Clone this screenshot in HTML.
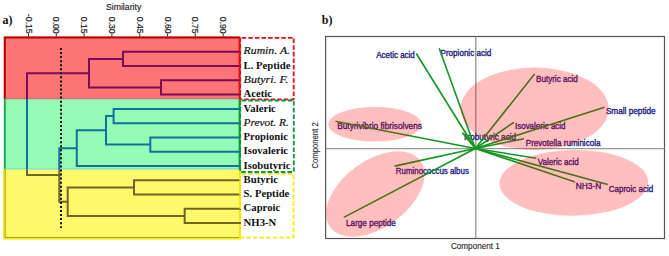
<!DOCTYPE html>
<html><head><meta charset="utf-8"><style>
html,body{margin:0;padding:0;background:#fff;width:669px;height:256px;overflow:hidden}
svg{display:block}
</style></head><body>
<svg width="669" height="256" viewBox="0 0 669 256">
<defs>
<clipPath id="cr"><rect x="0" y="0" width="300" height="99"/></clipPath>
<clipPath id="cg"><rect x="0" y="99" width="300" height="70.6"/></clipPath>
<clipPath id="cy"><rect x="0" y="169.6" width="300" height="100"/></clipPath>
</defs>
<!-- panel a -->
<text x="2.6" y="24.3" style="font-family:'Liberation Serif',serif;font-weight:bold;font-size:12px" fill="#111">a)</text>
<text x="105.9" y="10.2" textLength="35.4" lengthAdjust="spacingAndGlyphs" style="font-family:'Liberation Sans',sans-serif;font-size:8.8px" fill="#222" stroke="#222" stroke-width="0.15">Similarity</text>
<g style="font-family:'Liberation Sans',sans-serif;font-size:8.6px" fill="#222" stroke="#333" stroke-width="1"><text stroke="#222" stroke-width="0.2" transform="translate(25.5 33.6) rotate(90)" text-anchor="end">-0.15</text><line x1="28.5" y1="33.5" x2="28.5" y2="37" /><text stroke="#222" stroke-width="0.2" transform="translate(53.3 33.6) rotate(90)" text-anchor="end">0.00</text><line x1="56.3" y1="33.5" x2="56.3" y2="37" /><text stroke="#222" stroke-width="0.2" transform="translate(81.1 33.6) rotate(90)" text-anchor="end">0.15</text><line x1="84.1" y1="33.5" x2="84.1" y2="37" /><text stroke="#222" stroke-width="0.2" transform="translate(108.9 33.6) rotate(90)" text-anchor="end">0.30</text><line x1="111.9" y1="33.5" x2="111.9" y2="37" /><text stroke="#222" stroke-width="0.2" transform="translate(136.7 33.6) rotate(90)" text-anchor="end">0.45</text><line x1="139.7" y1="33.5" x2="139.7" y2="37" /><text stroke="#222" stroke-width="0.2" transform="translate(164.5 33.6) rotate(90)" text-anchor="end">0.60</text><line x1="167.5" y1="33.5" x2="167.5" y2="37" /><text stroke="#222" stroke-width="0.2" transform="translate(192.3 33.6) rotate(90)" text-anchor="end">0.75</text><line x1="195.3" y1="33.5" x2="195.3" y2="37" /><text stroke="#222" stroke-width="0.2" transform="translate(220.1 33.6) rotate(90)" text-anchor="end">0.90</text><line x1="223.1" y1="33.5" x2="223.1" y2="37" /></g>
<rect x="3.8" y="36.5" width="236.5" height="62.5" fill="#ff7474"/>
<rect x="3.8" y="99" width="236.5" height="70.6" fill="#94fcb6"/>
<rect x="3.8" y="169.6" width="236.5" height="69.39999999999999" fill="#fef96a"/>
<g fill="none">
<path d="M4.8 99V37.5H239.8" stroke="#b4000a" stroke-width="2"/>
<path d="M239.60000000000002 37.5V99" stroke="#f00008" stroke-width="2"/>
<path d="M4.8 98.4H238.8" stroke="#e86060" stroke-width="0.8"/>
<path d="M4.8 99.7H238.8" stroke="#80d8b8" stroke-width="0.9"/>
<path d="M4.8 99V169.6" stroke="#20a050" stroke-width="1.8"/>
<path d="M239.60000000000002 99V169.6" stroke="#10a040" stroke-width="2"/>
<path d="M4.8 169.0H238.8" stroke="#78dcc0" stroke-width="1"/>
<path d="M4.2 169.6V238.5H240.0V169.6" stroke="#f0ea00" stroke-width="2"/>
<path d="M5.2 169.6V237.5H238.8" stroke="#a09a10" stroke-width="0.9"/>
</g>
<g fill="none" stroke-width="2" stroke-linejoin="miter" stroke-linecap="square">
<path d="M123 58.9375V51.80H240M123 58.9375V66.08H240M161 87.4875V80.35H240M161 87.4875V94.62H240M89 73.2125V58.94H123M89 73.2125V87.49H161M113.6 116.0375V108.90H240M113.6 116.0375V123.17H240M150.3 144.58749999999998V137.45H240M150.3 144.58749999999998V151.72H240M106 130.3125V116.04H113.6M106 130.3125V144.59H150.3M76.8 148.15625V130.31H106M76.8 148.15625V166.00H240M134 187.4125V180.27H240M134 187.4125V194.55H240M184.7 215.9625V208.82H240M184.7 215.9625V223.10H240M67.7 201.6875V187.41H134M67.7 201.6875V215.96H184.7M59.3 174.921875V148.16H76.8M59.3 174.921875V201.69H67.7M27 124.0671875V73.21H89M27 124.0671875V174.92H59.3" stroke="#7a0c58" clip-path="url(#cr)"/>
<path d="M123 58.9375V51.80H240M123 58.9375V66.08H240M161 87.4875V80.35H240M161 87.4875V94.62H240M89 73.2125V58.94H123M89 73.2125V87.49H161M113.6 116.0375V108.90H240M113.6 116.0375V123.17H240M150.3 144.58749999999998V137.45H240M150.3 144.58749999999998V151.72H240M106 130.3125V116.04H113.6M106 130.3125V144.59H150.3M76.8 148.15625V130.31H106M76.8 148.15625V166.00H240M134 187.4125V180.27H240M134 187.4125V194.55H240M184.7 215.9625V208.82H240M184.7 215.9625V223.10H240M67.7 201.6875V187.41H134M67.7 201.6875V215.96H184.7M59.3 174.921875V148.16H76.8M59.3 174.921875V201.69H67.7M27 124.0671875V73.21H89M27 124.0671875V174.92H59.3" stroke="#12709e" clip-path="url(#cg)"/>
<path d="M123 58.9375V51.80H240M123 58.9375V66.08H240M161 87.4875V80.35H240M161 87.4875V94.62H240M89 73.2125V58.94H123M89 73.2125V87.49H161M113.6 116.0375V108.90H240M113.6 116.0375V123.17H240M150.3 144.58749999999998V137.45H240M150.3 144.58749999999998V151.72H240M106 130.3125V116.04H113.6M106 130.3125V144.59H150.3M76.8 148.15625V130.31H106M76.8 148.15625V166.00H240M134 187.4125V180.27H240M134 187.4125V194.55H240M184.7 215.9625V208.82H240M184.7 215.9625V223.10H240M67.7 201.6875V187.41H134M67.7 201.6875V215.96H184.7M59.3 174.921875V148.16H76.8M59.3 174.921875V201.69H67.7M27 124.0671875V73.21H89M27 124.0671875V174.92H59.3" stroke="#706426" clip-path="url(#cy)"/>
</g>
<line x1="61" y1="48" x2="61" y2="228" stroke="#111" stroke-width="2" stroke-dasharray="2 2.05"/>
<g fill="none" stroke-width="1.8" stroke-dasharray="4.6 2" stroke-dashoffset="-1.5">
<rect x="240.2" y="37.8" width="53.5" height="61.5" stroke="#e0101a"/>
<rect x="240.2" y="100.5" width="53.6" height="71.5" stroke="#12913f"/>
<rect x="240.2" y="173.8" width="53.3" height="63.9" stroke="#f2ea10"/>
</g>
<g style="font-family:'Liberation Serif',serif;font-size:10.7px" fill="#111"><text x="243.6" y="54.4" style="font-style:italic;font-weight:normal;font-size:11.2px" textLength="46.4" lengthAdjust="spacingAndGlyphs" stroke="#111" stroke-width="0.2">Rumin. A.</text><text x="243.6" y="68.7" style="font-weight:bold">L. Peptide</text><text x="243.6" y="82.9" style="font-style:italic;font-weight:normal;font-size:11.2px" textLength="44.7" lengthAdjust="spacingAndGlyphs" stroke="#111" stroke-width="0.2">Butyri. F.</text><text x="243.6" y="97.2" style="font-weight:bold">Acetic</text><text x="243.6" y="111.5" style="font-weight:bold">Valeric</text><text x="243.6" y="125.8" style="font-style:italic;font-weight:normal;font-size:11.2px" textLength="45.2" lengthAdjust="spacingAndGlyphs" stroke="#111" stroke-width="0.2">Prevot. R.</text><text x="243.6" y="140.0" style="font-weight:bold">Propionic</text><text x="243.6" y="154.3" style="font-weight:bold">Isovaleric</text><text x="243.6" y="168.6" style="font-weight:bold">Isobutyric</text><text x="243.6" y="182.9" style="font-weight:bold">Butyric</text><text x="243.6" y="197.2" style="font-weight:bold">S. Peptide</text><text x="243.6" y="211.4" style="font-weight:bold">Caproic</text><text x="243.6" y="225.7" style="font-weight:bold">NH3-N</text></g>
<!-- panel b -->
<text x="321.8" y="24.4" style="font-family:'Liberation Serif',serif;font-weight:bold;font-size:12px" fill="#111">b)</text>
<rect x="325.6" y="36.5" width="338.9" height="202" fill="none" stroke="#555" stroke-width="1.2"/>
<line x1="475.8" y1="36.5" x2="475.8" y2="238.5" stroke="#8a8a8a" stroke-width="1.2"/>
<line x1="325.6" y1="148.7" x2="664.5" y2="148.7" stroke="#999" stroke-width="1.3"/>
<g style="font-family:'Liberation Sans',sans-serif;font-size:8.6px" fill="#1c1c84" stroke="#1c1c84" stroke-width="0.35"><text x="376.3" y="57.7" textLength="38.5" lengthAdjust="spacingAndGlyphs">Acetic acid</text><text x="440.5" y="56.4" textLength="50.8" lengthAdjust="spacingAndGlyphs">Propionic acid</text><text x="536.0" y="81.7" textLength="41.8" lengthAdjust="spacingAndGlyphs">Butyric acid</text><text x="605.9" y="113.7" textLength="49.8" lengthAdjust="spacingAndGlyphs">Small peptide</text><text x="515.0" y="129.0" textLength="50.5" lengthAdjust="spacingAndGlyphs">Isovaleric acid</text><text x="525.8" y="145.8" textLength="74.6" lengthAdjust="spacingAndGlyphs">Prevotella ruminicola</text><text x="463.9" y="139.5" textLength="52.2" lengthAdjust="spacingAndGlyphs">Isobutyric acid</text><text x="337.2" y="128.6" textLength="84.8" lengthAdjust="spacingAndGlyphs">Butyrivibrio fibrisolvens</text><text x="395.8" y="173.5" textLength="73.1" lengthAdjust="spacingAndGlyphs">Ruminococcus albus</text><text x="346.1" y="225.7" textLength="49.7" lengthAdjust="spacingAndGlyphs">Large peptide</text><text x="537.8" y="164.5" textLength="41.0" lengthAdjust="spacingAndGlyphs">Valeric acid</text><text x="575.8" y="188.9" textLength="25.5" lengthAdjust="spacingAndGlyphs">NH3-N</text><text x="608.7" y="192.1" textLength="44.5" lengthAdjust="spacingAndGlyphs">Caproic acid</text></g>
<g stroke="#12961f" stroke-width="1.6"><line x1="475.3" y1="148.5" x2="416.3" y2="53.5"/><line x1="475.3" y1="148.5" x2="439.2" y2="48.2"/><line x1="475.3" y1="148.5" x2="534.6" y2="74.0"/><line x1="475.3" y1="148.5" x2="604.5" y2="107.2"/><line x1="475.3" y1="148.5" x2="513.9" y2="122.3"/><line x1="475.3" y1="148.5" x2="524.0" y2="138.7"/><line x1="475.3" y1="148.5" x2="462.3" y2="132.4"/><line x1="475.3" y1="148.5" x2="335.4" y2="121.3"/><line x1="475.3" y1="148.5" x2="394.6" y2="166.1"/><line x1="475.3" y1="148.5" x2="343.8" y2="217.4"/><line x1="475.3" y1="148.5" x2="536.3" y2="158.2"/><line x1="475.3" y1="148.5" x2="575.0" y2="181.9"/><line x1="475.3" y1="148.5" x2="607.8" y2="184.5"/></g>
<g fill="#ff0000" fill-opacity="0.25">
<ellipse cx="534.6" cy="108.7" rx="74" ry="41.2"/>
<ellipse cx="374.9" cy="124.3" rx="46.6" ry="17.3"/>
<ellipse cx="375.3" cy="194" rx="56.1" ry="33.4" transform="rotate(-36.5 375.3 194)"/>
<ellipse cx="573.8" cy="182.8" rx="74.3" ry="32.9" transform="rotate(-0.7 573.8 182.8)"/>
</g>
<text x="0" y="0" transform="translate(318.4 168.5) rotate(-90)" textLength="46.2" lengthAdjust="spacingAndGlyphs" style="font-family:'Liberation Sans',sans-serif;font-size:8.6px" fill="#262626" stroke="#262626" stroke-width="0.12">Component 2</text>
<text x="450.9" y="248.9" textLength="49" lengthAdjust="spacingAndGlyphs" style="font-family:'Liberation Sans',sans-serif;font-size:8.6px" fill="#262626" stroke="#262626" stroke-width="0.12">Component 1</text>
</svg>
</body></html>
